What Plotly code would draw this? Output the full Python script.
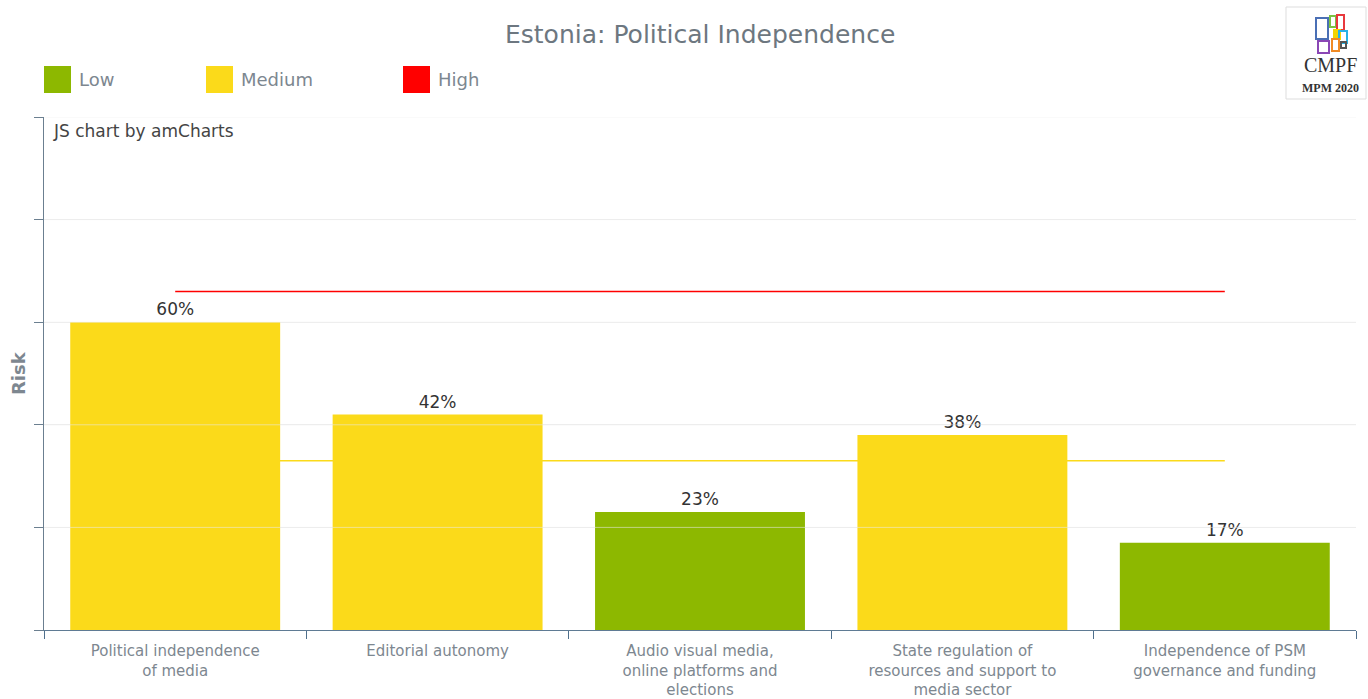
import plotly.graph_objects as go

# ---- data ----
categories = [
    "Political independence<br>of media",
    "Editorial autonomy",
    "Audio visual media,<br>online platforms and<br>elections",
    "State regulation of<br>resources and support to<br>media sector",
    "Independence of PSM<br>governance and funding",
]
risk_values = [60, 42, 23, 38, 17]
risk_levels = ["Medium", "Medium", "Low", "Medium", "Low"]
high_threshold = 66
medium_threshold = 33
level_names = ["Low", "Medium", "High"]

COLORS = {"Low": "#8DB800", "Medium": "#FBDA1A", "High": "#FF0000"}
GRAY = "#7d8790"

W, H = 1368, 699
L, R, T, B = 44, 12, 117, 69
PW, PH = W - L - R, H - T - B


def px(x):
    return (x - L) / PW


def py(y):
    return (H - B - y) / PH


fig = go.Figure()

# bars (one trace per level so colors follow the level)
for lvl in level_names:
    xs = [c for c, l in zip(categories, risk_levels) if l == lvl]
    ys = [v for v, l in zip(risk_values, risk_levels) if l == lvl]
    fig.add_trace(go.Bar(
        x=xs, y=ys, name=lvl, marker=dict(color=COLORS[lvl], line=dict(width=0)),
        texttemplate="%{y}%", textposition="outside", cliponaxis=False,
        textfont=dict(size=17, color="#333333", family="DejaVu Sans"),
        showlegend=False, hoverinfo="skip",
    ))

# threshold lines
fig.add_trace(go.Scatter(
    x=[categories[0], categories[-1]], y=[medium_threshold, medium_threshold],
    mode="lines", line=dict(color=COLORS["Medium"], width=1.5),
    showlegend=False, hoverinfo="skip"))
fig.add_trace(go.Scatter(
    x=[categories[0], categories[-1]], y=[high_threshold, high_threshold],
    mode="lines", line=dict(color=COLORS["High"], width=1.5),
    showlegend=False, hoverinfo="skip"))

shapes = []
annotations = []

# light gridlines drawn above bars
for g in [20, 40, 60, 80, 100]:
    shapes.append(dict(type="line", xref="paper", yref="y", x0=0, x1=1, y0=g, y1=g,
                       line=dict(color="rgba(235,235,235,0.55)", width=1), layer="above"))

# legend (manual)
legend_x = [44, 206, 403]
for lvl, lx in zip(level_names, legend_x):
    shapes.append(dict(type="rect", xref="paper", yref="paper",
                       x0=px(lx), x1=px(lx + 27), y0=py(93), y1=py(66),
                       fillcolor=COLORS[lvl], line=dict(width=0)))
    annotations.append(dict(text=lvl, xref="paper", yref="paper", x=px(lx + 33), y=py(80),
                            xanchor="left", yanchor="middle", showarrow=False,
                            font=dict(size=18, color=GRAY, family="DejaVu Sans")))

# title
annotations.append(dict(text="Estonia: Political Independence", xref="paper", yref="paper",
                        x=px(700), y=py(34), xanchor="center", yanchor="middle", showarrow=False,
                        font=dict(size=25, color="#6d7780", family="DejaVu Sans")))
# credit
annotations.append(dict(text="JS chart by amCharts", xref="paper", yref="paper",
                        x=px(51), y=py(131), xanchor="left", yanchor="middle", showarrow=False,
                        font=dict(size=17, color="#444444", family="DejaVu Sans")))
# y-axis title
annotations.append(dict(text="<b>Risk</b>", xref="paper", yref="paper", textangle=-90,
                        x=px(18), y=py(373), xanchor="center", yanchor="middle", showarrow=False,
                        font=dict(size=18, color=GRAY, family="DejaVu Sans")))

# logo
shapes.append(dict(type="rect", xref="paper", yref="paper", x0=px(1286), x1=px(1366),
                   y0=py(99), y1=py(7), fillcolor="white", line=dict(color="#dddddd", width=1)))
logo_parts = [
    (1316, 1328, 18, 39, "#4a6fb5", False),
    (1330, 1336, 16, 27, "#7cc242", False),
    (1337, 1344, 15, 30, "#e8383d", False),
    (1334, 1340, 30, 39, "#f2d400", True),
    (1339, 1347, 31, 43, "#27b2e5", False),
    (1318, 1329, 41, 53, "#8a47b5", False),
    (1332, 1339, 39, 51, "#f08a24", False),
    (1341, 1346, 42, 48, "#555555", False),
]
for x0, x1, y0, y1, c, filled in logo_parts:
    shapes.append(dict(type="rect", xref="paper", yref="paper", x0=px(x0), x1=px(x1),
                       y0=py(y1), y1=py(y0), line=dict(color=c, width=2),
                       fillcolor=c if filled else "rgba(0,0,0,0)"))
annotations.append(dict(text="CMPF", xref="paper", yref="paper", x=px(1330), y=py(65),
                        xanchor="center", yanchor="middle", showarrow=False,
                        font=dict(size=20, color="#333333", family="Liberation Serif")))
annotations.append(dict(text="<b>MPM 2020</b>", xref="paper", yref="paper", x=px(1330), y=py(88),
                        xanchor="center", yanchor="middle", showarrow=False,
                        font=dict(size=12, color="#333333", family="Liberation Serif")))

fig.update_layout(
    width=W, height=H,
    margin=dict(l=L, r=R, t=T, b=B),
    paper_bgcolor="white", plot_bgcolor="white",
    barmode="overlay", bargap=0.2,
    showlegend=False,
    font=dict(family="DejaVu Sans"),
    shapes=shapes, annotations=annotations,
    xaxis=dict(
        categoryorder="array", categoryarray=categories, automargin=False,
        showline=True, linecolor="#5f7b94", linewidth=1,
        ticks="outside", tickson="boundaries", ticklen=8, tickcolor="#4f6f8c",
        tickfont=dict(size=15, color=GRAY, family="DejaVu Sans"),
        showgrid=False, ticklabelstandoff=7,
    ),
    yaxis=dict(
        range=[0, 100], dtick=20, showticklabels=False, automargin=False,
        showline=True, linecolor="#6b7f90", linewidth=1,
        ticks="outside", ticklen=9, tickcolor="#6b7f90",
        showgrid=True, gridcolor="#efefef", zeroline=False,
    ),
)

fig.write_html("out.html")
